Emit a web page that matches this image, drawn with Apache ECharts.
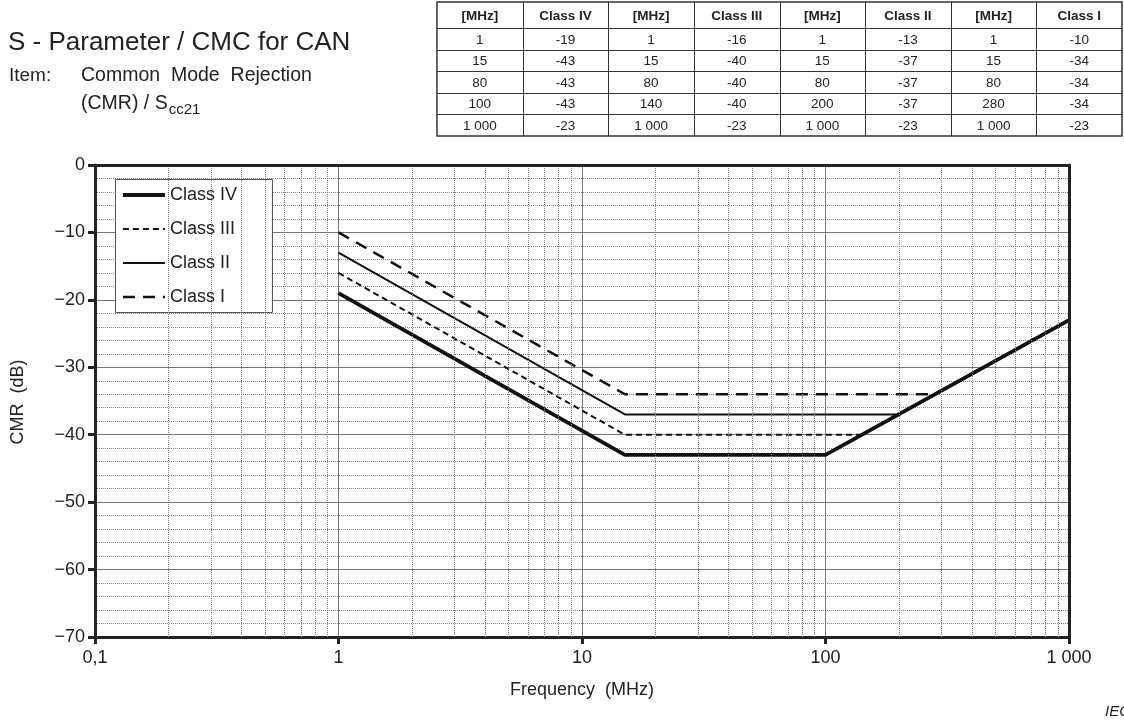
<!DOCTYPE html>
<html>
<head>
<meta charset="utf-8">
<script src="https://cdn.jsdelivr.net/npm/echarts@6/dist/echarts.min.js"></script>
<style>
html,body{margin:0;padding:0;background:#fff;}
#chart{width:1124px;height:720px;}
</style>
</head>
<body>
<div id="chart"></div>
<script>
// ---- data ----
const classNames = ['Class IV', 'Class III', 'Class II', 'Class I'];
const freqIV  = [1, 15, 80, 100, 1000];
const cmrIV   = [-19, -43, -43, -43, -23];
const freqIII = [1, 15, 80, 140, 1000];
const cmrIII  = [-16, -40, -40, -40, -23];
const freqII  = [1, 15, 80, 200, 1000];
const cmrII   = [-13, -37, -37, -37, -23];
const freqI   = [1, 15, 80, 280, 1000];
const cmrI    = [-10, -34, -34, -34, -23];
const xTickValues = [0.1, 1, 10, 100, 1000];
const xTickLabels = ['0,1', '1', '10', '100', '1 000'];
const yTickValues = [0, -10, -20, -30, -40, -50, -60, -70];
const yTickLabels = ['0', '\u221210', '\u221220', '\u221230', '\u221240', '\u221250', '\u221260', '\u221270'];
const tableHeaders = ['[MHz]', 'Class IV', '[MHz]', 'Class III', '[MHz]', 'Class II', '[MHz]', 'Class I'];

const FONT = '"Liberation Sans", Arial, Helvetica, sans-serif';
const INK = '#222';

// ---- layout ----
const G = {left: 95, top: 165, right: 1069, bottom: 637};

const classFreq = [freqIV, freqIII, freqII, freqI];
const classCmr = [cmrIV, cmrIII, cmrII, cmrI];
const lineStyles = [
  {width: 3.8, type: 'solid'},
  {width: 2, type: [6, 4]},
  {width: 2, type: 'solid'},
  {width: 2.5, type: [12, 8]}
];

function fmtFreq(f) { return String(f).replace(/\B(?=(\d{3})+(?!\d))/g, ' '); }

// minor vertical grid values (2..9 of each decade)
const minorX = [];
for (let e = -1; e < 3; e++) {
  for (let k = 2; k <= 9; k++) minorX.push(k * Math.pow(10, e));
}

const series = [{
  type: 'line', data: [], z: 1, silent: true, symbol: 'none',
  markLine: {
    silent: true, symbol: ['none', 'none'], label: {show: false},
    animation: false,
    lineStyle: {color: '#808080', width: 1, type: [1, 1]},
    emphasis: {disabled: true},
    data: minorX.map(v => ({xAxis: v}))
  }
}];
classNames.forEach((name, i) => {
  series.push({
    name: name, type: 'line', z: 3, symbol: 'none', silent: true,
    lineStyle: Object.assign({color: '#111'}, lineStyles[i]),
    itemStyle: {color: '#111'},
    data: classFreq[i].map((f, j) => [f, classCmr[i][j]])
  });
});

// ---- graphics: title, table, names ----
const graphic = [];
graphic.push({type: 'text', x: 8, y: 43, style: {text: 'S - Parameter / CMC for CAN', font: '26px ' + FONT, fill: INK, verticalAlign: 'middle'}});
graphic.push({type: 'text', x: 9, y: 76, style: {text: 'Item:', font: '19px ' + FONT, fill: INK, verticalAlign: 'middle'}});
graphic.push({type: 'text', x: 81, y: 76, style: {text: 'Common  Mode  Rejection', font: '19.5px ' + FONT, fill: INK, verticalAlign: 'middle'}});
const cmrText = '(CMR) / S';
const mctx = document.createElement('canvas').getContext('2d');
mctx.font = '19.5px ' + FONT;
const cmrW = mctx.measureText(cmrText).width;
graphic.push({type: 'text', x: 81, y: 104, style: {text: cmrText, font: '19.5px ' + FONT, fill: INK, verticalAlign: 'middle'}});
graphic.push({type: 'text', x: 81 + cmrW + 1, y: 110, style: {text: 'cc21', font: '15px ' + FONT, fill: INK, verticalAlign: 'middle'}});

// table
const T = {left: 437, right: 1122, top: 2, headH: 26, rowH: 21.6};
const nCols = tableHeaders.length;
const colW = (T.right - T.left) / nCols;
const nRows = freqIV.length;
const tBottom = T.top + T.headH + nRows * T.rowH;
graphic.push({type: 'rect', shape: {x: T.left, y: T.top, width: T.right - T.left, height: tBottom - T.top}, style: {fill: '#fff', stroke: '#333', lineWidth: 1.5}, z: 10});
for (let c = 1; c < nCols; c++) {
  const x = Math.round(T.left + c * colW) + 0.5;
  graphic.push({type: 'line', shape: {x1: x, y1: T.top, x2: x, y2: tBottom}, style: {stroke: '#333', lineWidth: 1}, z: 11});
}
for (let r = 0; r < nRows; r++) {
  const y = Math.round(T.top + T.headH + r * T.rowH) + 0.5;
  graphic.push({type: 'line', shape: {x1: T.left, y1: y, x2: T.right, y2: y}, style: {stroke: '#333', lineWidth: 1}, z: 11});
}
tableHeaders.forEach((h, c) => {
  graphic.push({type: 'text', x: T.left + (c + 0.5) * colW, y: T.top + T.headH / 2 + 1, z: 12,
    style: {text: h, font: 'bold 13.5px ' + FONT, fill: INK, align: 'center', verticalAlign: 'middle'}});
});
for (let k = 0; k < 4; k++) {
  for (let r = 0; r < nRows; r++) {
    const yc = T.top + T.headH + (r + 0.5) * T.rowH + 1;
    graphic.push({type: 'text', x: T.left + (2 * k + 0.5) * colW, y: yc, z: 12,
      style: {text: fmtFreq(classFreq[k][r]), font: '13.5px ' + FONT, fill: INK, align: 'center', verticalAlign: 'middle'}});
    graphic.push({type: 'text', x: T.left + (2 * k + 1.5) * colW, y: yc, z: 12,
      style: {text: String(classCmr[k][r]), font: '13.5px ' + FONT, fill: INK, align: 'center', verticalAlign: 'middle'}});
  }
}

// legend box (behind legend, above grid)
graphic.push({type: 'rect', shape: {x: 115.5, y: 179.5, width: 157, height: 133}, style: {fill: '#fff', stroke: '#555', lineWidth: 1}, z: 4});

// axis names
graphic.push({type: 'text', x: 18, y: (G.top + G.bottom) / 2 + 1, rotation: Math.PI / 2,
  style: {text: 'CMR  (dB)', font: '18px ' + FONT, fill: INK, align: 'center', verticalAlign: 'middle'}});
graphic.push({type: 'text', x: (G.left + G.right) / 2, y: 690,
  style: {text: 'Frequency  (MHz)', font: '18px ' + FONT, fill: INK, align: 'center', verticalAlign: 'middle'}});
graphic.push({type: 'text', x: 1105, y: 712,
  style: {text: 'IEC', font: 'italic 15px ' + FONT, fill: INK, verticalAlign: 'middle'}});

const frameAxis = {show: true, onZero: false, lineStyle: {color: '#222', width: 3}};

const chart = echarts.init(document.getElementById('chart'), null, {renderer: 'canvas'});
chart.setOption({
  animation: false,
  backgroundColor: '#fff',
  textStyle: {fontFamily: FONT},
  grid: {left: G.left, top: G.top, width: G.right - G.left, height: G.bottom - G.top,
    show: false},
  legend: {
    orient: 'vertical', left: 121, top: 186, z: 6,
    itemWidth: 42, itemHeight: 18, itemGap: 16, padding: 0,
    selectedMode: false,
    itemStyle: {opacity: 0},
    lineStyle: {width: 'inherit', type: 'inherit', color: 'inherit'},
    textStyle: {fontSize: 18, color: INK, fontFamily: FONT, lineHeight: 18},
    data: classNames
  },
  xAxis: [{
    type: 'log', logBase: 10, min: 0.1, max: 1000, interval: 1, position: 'bottom',
    axisLine: frameAxis,
    axisTick: {show: true, inside: false, length: 7, lineStyle: {color: '#222', width: 3}},
    axisLabel: {margin: 12, fontSize: 18, color: INK, fontFamily: FONT,
      formatter: function (v) {
        let best = 0, bd = Infinity;
        xTickValues.forEach((t, i) => { const d = Math.abs(Math.log10(t) - Math.log10(v)); if (d < bd) { bd = d; best = i; } });
        return xTickLabels[best];
      }},
    splitLine: {show: true, lineStyle: {color: '#777', width: 1}},
    minorTick: {show: false},
    minorSplitLine: {show: false}
  }, {
    type: 'log', logBase: 10, min: 0.1, max: 1000, interval: 1, position: 'top', z: 5,
    axisLine: frameAxis, axisTick: {show: false}, axisLabel: {show: false}, splitLine: {show: false}
  }],
  yAxis: [{
    type: 'value', min: -70, max: 0, interval: 10, position: 'left',
    axisLine: frameAxis,
    axisTick: {show: true, length: 7, lineStyle: {color: '#222', width: 3}},
    axisLabel: {margin: 10, fontSize: 18, color: INK, fontFamily: FONT,
      formatter: function (v) { const i = yTickValues.indexOf(Math.round(v)); return i >= 0 ? yTickLabels[i] : ''; }},
    splitLine: {show: true, lineStyle: {color: '#777', width: 1}},
    minorTick: {show: false, splitNumber: 5},
    minorSplitLine: {show: true, lineStyle: {color: '#808080', width: 1, type: [1, 1]}}
  }, {
    type: 'value', min: -70, max: 0, interval: 10, position: 'right', z: 5,
    axisLine: frameAxis, axisTick: {show: false}, axisLabel: {show: false}, splitLine: {show: false}
  }],
  series: series,
  graphic: graphic
});
</script>
</body>
</html>
